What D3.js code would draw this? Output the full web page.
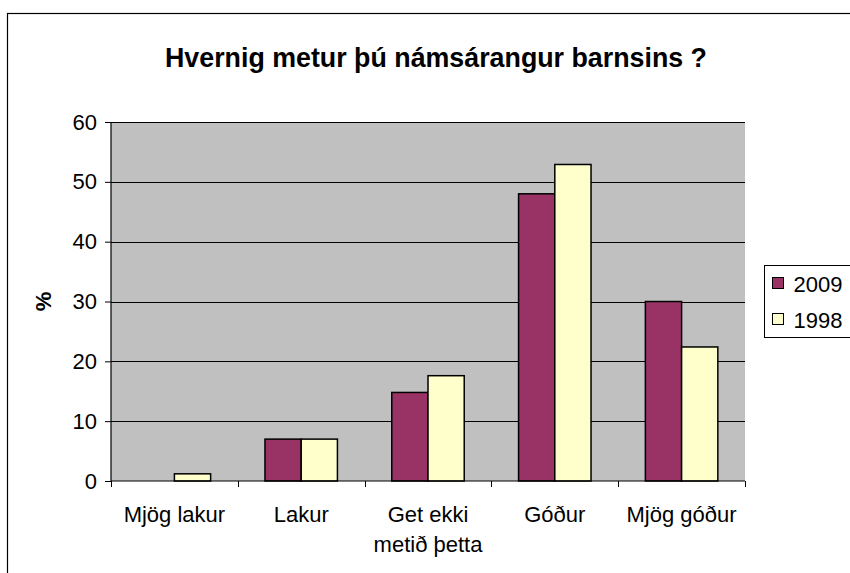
<!DOCTYPE html>
<html>
<head>
<meta charset="utf-8">
<script src="https://cdn.jsdelivr.net/npm/d3@7"></script>
<style>
  body { margin: 0; background: #fff; }
  text { font-family: "Liberation Sans", Arial, sans-serif; fill: #000; }
</style>
</head>
<body>
<svg id="chart" width="850" height="573"></svg>
<script>
// data
const categories = ["Mjög lakur", "Lakur", "Get ekki metið þetta", "Góður", "Mjög góður"];
const categoryLines = [["Mjög lakur"], ["Lakur"], ["Get ekki", "metið þetta"], ["Góður"], ["Mjög góður"]];
const seriesNames = ["2009", "1998"];
const values2009 = [0, 7, 14.8, 48, 30];
const values1998 = [1.2, 7, 17.6, 52.9, 22.4];
const yTicks = [0, 10, 20, 30, 40, 50, 60];
const colors = ["#993366", "#FFFFCC"];

const svg = d3.select("#chart");
const margin = {top: 122, left: 111, right: 105, bottom: 92};
const width = 850 - margin.left - margin.right;
const height = 573 - margin.top - margin.bottom;

// outer chart frame
svg.append("rect")
    .attr("x", 7.5).attr("y", 13.5)
    .attr("width", 860).attr("height", 580)
    .attr("fill", "#fff").attr("stroke", "#000").attr("stroke-width", 1.2);

svg.append("text")
    .attr("x", 436).attr("y", 67)
    .attr("text-anchor", "middle")
    .style("font-size", "26.8px").style("font-weight", "bold")
    .text("Hvernig metur þú námsárangur barnsins ?");

const g = svg.append("g").attr("transform", `translate(${margin.left},${margin.top})`);

// Excel style gap width 150%: each group = 2 bars, gap = 1.5 bars
const x0 = d3.scaleBand().domain(categories).range([0, width]).padding(0);
const barW = x0.bandwidth() / 3.5;
const x1 = d3.scaleBand().domain(seriesNames).range([0, barW * 2]);
const y = d3.scaleLinear().domain([0, 60]).range([height, 0]);

g.append("rect")
    .attr("width", width).attr("height", height)
    .attr("fill", "#C0C0C0");

// gridlines
g.selectAll(".grid").data(yTicks.slice(1)).enter()
    .append("line")
    .attr("x1", 0).attr("x2", width)
    .attr("y1", d => Math.round(y(d)) + 0.5).attr("y2", d => Math.round(y(d)) + 0.5)
    .attr("stroke", "#000").attr("stroke-width", 1);

const rows = categories.map((c, i) => ({cat: c, vals: [values2009[i], values1998[i]]}));

g.selectAll(".grp").data(rows).enter()
    .append("g")
    .attr("transform", d => `translate(${x0(d.cat) + barW * 0.75},0)`)
    .selectAll("rect")
    .data(d => d.vals.map((v, i) => ({name: seriesNames[i], v: v, c: colors[i]})))
    .enter()
    .filter(d => d.v > 0)
    .append("rect")
    .attr("x", d => x1(d.name))
    .attr("y", d => y(d.v))
    .attr("width", x1.bandwidth())
    .attr("height", d => y(0) - y(d.v))
    .attr("fill", d => d.c)
    .attr("stroke", "#000").attr("stroke-width", 1.5);

// y axis
const yAxis = g.append("g")
    .call(d3.axisLeft(y).tickValues(yTicks).tickSize(6).tickPadding(8));
yAxis.select(".domain").attr("stroke", "#000").attr("stroke-width", 1.2).attr("d", `M0,0V${height}`);
yAxis.selectAll("text").style("font-size", "22px").attr("font-family", null);
yAxis.selectAll(".tick line").attr("stroke", "#000");

// x axis
const xAxis = g.append("g").attr("transform", `translate(0,${height})`);
xAxis.append("line").attr("x1", 0).attr("x2", width).attr("stroke", "#000").attr("stroke-width", 1.2);
xAxis.selectAll(".xt").data(d3.range(categories.length + 1)).enter()
    .append("line")
    .attr("x1", i => Math.round(i * x0.step()) + 0.5).attr("x2", i => Math.round(i * x0.step()) + 0.5)
    .attr("y1", 0).attr("y2", 6)
    .attr("stroke", "#000");
xAxis.selectAll(".xl").data(categories).enter()
    .append("text")
    .attr("y", 41)
    .attr("text-anchor", "middle")
    .style("font-size", "22px")
    .each(function(d, i) {
        categoryLines[i].forEach((line, k) => {
            d3.select(this).append("tspan")
                .attr("x", x0(d) + x0.bandwidth() / 2)
                .attr("dy", k === 0 ? 0 : 30)
                .text(line);
        });
    });

svg.append("text")
    .attr("transform", `translate(51,${margin.top + height / 2}) rotate(-90)`)
    .attr("text-anchor", "middle")
    .style("font-size", "22px").style("font-weight", "bold")
    .text("%");

// legend
const legend = svg.append("g").attr("transform", "translate(764.5,265.5)");
legend.append("rect")
    .attr("width", 100).attr("height", 72)
    .attr("fill", "#fff").attr("stroke", "#000").attr("stroke-width", 1);
seriesNames.forEach((s, i) => {
    legend.append("rect")
        .attr("x", 8).attr("y", 12 + i * 36)
        .attr("width", 11).attr("height", 11)
        .attr("fill", colors[i]).attr("stroke", "#000").attr("stroke-width", 1);
    legend.append("text")
        .attr("x", 29).attr("y", 26 + i * 36)
        .style("font-size", "22px")
        .text(s);
});
</script>
</body>
</html>
